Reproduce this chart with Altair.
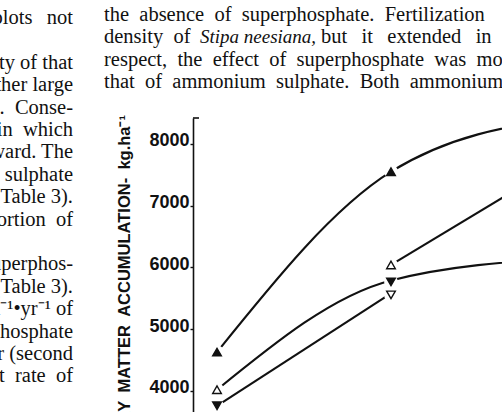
import altair as alt
import pandas as pd

# ---------------- data ----------------
occasions = [1, 2]                      # sampling occasions (x)
filled_up = [4630, 7550]
open_up = [4020, 6040]
filled_down = [3760, 5765]
open_down_x = [2]
open_down = [5555]

# fitted curves (values at the occasions they span)
curve_top_x = [1, 2, 3]
curve_top = [4630, 7550, 8430]
curve_mid_x = [1, 2, 3]
curve_mid = [4020, 5790, 6150]
curve_low_x = [1, 2]
curve_low = [3760, 5580]
curve_branch_x = [2, 3]
curve_branch = [6040, 7740]

y_ticks = [4000, 5000, 6000, 7000, 8000]
y_title = "DRY MATTER ACCUMULATION- kg.ha\u207b\u00b9"

EN = "\u2002"
WIDE = "\u2002\u2009"
left_column = ["plots" + WIDE + "not", "", "the density of that", "rather large",
               "site." + EN + "Conse-", "condition" + EN + "in" + EN + "which", "toward. The",
               "ammonium sulphate", "(Table 3).", "proportion" + EN + "of", "",
               "superphos-", "(Table 3).", "kg.ha\u207b\u00b9\u2022yr\u207b\u00b9 of",
               "superphosphate", "year (second", "highest" + EN + "rate" + EN + "of"]
right_lines = ["the absence of superphosphate. Fertilization",
               "",
               "respect, the effect of superphosphate was more",
               "that of ammonium sulphate. Both ammonium"]
right_line2 = ["density of", "Stipa neesiana,", "but it extended in"]

# ---------------- tables ----------------
rows = []
for xs, ys, name in [(curve_top_x, curve_top, "top"), (curve_mid_x, curve_mid, "mid"),
                     (curve_low_x, curve_low, "low"), (curve_branch_x, curve_branch, "branch")]:
    for xv, yv in zip(xs, ys):
        rows.append({"curve": name, "x": xv, "value": yv})
curves = pd.DataFrame(rows)

mrows = []
for xv, yv in zip(occasions, filled_up):
    mrows.append({"kind": "filled up", "x": xv, "value": yv})
for xv, yv in zip(occasions, open_up):
    mrows.append({"kind": "open up", "x": xv, "value": yv})
for xv, yv in zip(occasions, filled_down):
    mrows.append({"kind": "filled down", "x": xv, "value": yv})
for xv, yv in zip(open_down_x, open_down):
    mrows.append({"kind": "open down", "x": xv, "value": yv})
markers = pd.DataFrame(mrows)
one = pd.DataFrame({"k": [0]})

INK = "#111111"
PLOT_W, PLOT_H = 309, 294
LEFT, TOP = 193, 118
xscale = alt.Scale(domain=[0.862, 2.638], nice=False, zero=False)
yscale = alt.Scale(domain=[3659, 8420], nice=False, zero=False)

base_x = alt.X("x:Q", scale=xscale, axis=None)

lines = alt.Chart(curves).mark_line(
    interpolate="monotone", clip=True, strokeWidth=2.1, color=INK
).encode(
    x=base_x,
    y=alt.Y("value:Q", scale=yscale, axis=alt.Axis(
        values=y_ticks, format="d", title=None, grid=False,
        labelFont="Liberation Sans", labelFontSize=18, labelFontWeight="bold",
        labelColor=INK, labelPadding=1, labelOffset=-3,
        domainColor=INK, domainWidth=1.6, tickColor=INK, tickSize=3, tickWidth=1.4)),
    detail="curve:N",
)

halo = alt.Chart(markers).mark_point(
    shape="circle", filled=True, color="white", size=190, opacity=1, clip=True
).encode(x=base_x, y=alt.Y("value:Q", scale=yscale))

kinds = ["filled up", "open up", "filled down", "open down"]
pts = alt.Chart(markers).mark_point(
    filled=True, stroke=INK, strokeWidth=1.4, opacity=1, size=75, clip=True
).encode(
    x=base_x,
    y=alt.Y("value:Q", scale=yscale),
    shape=alt.Shape("kind:N", scale=alt.Scale(domain=kinds, range=[
        "triangle-up", "triangle-up", "triangle-down", "triangle-down"]), legend=None),
    fill=alt.Fill("kind:N", scale=alt.Scale(domain=kinds, range=[
        INK, "white", INK, "white"]), legend=None),
)

# top bracket of the axis
bracket = alt.Chart(one).mark_rule(color=INK, strokeWidth=1.6).encode(
    x=alt.value(0), x2=alt.value(6), y=alt.value(0))

title = alt.Chart(one).mark_text(
    text=y_title.replace(" ", EN), angle=270, align="right", baseline="middle",
    font="Liberation Sans", fontWeight="bold", fontSize=16.5, color=INK
).encode(x=alt.value(125 - LEFT), y=alt.value(115 - TOP))

SERIF = "Liberation Serif"
FS = 20.5
LH = 22.4
Y0 = 21       # baseline of first line, right column
Y0_LEFT = 24  # baseline of first line, left column

text_layers = []
for i, s in enumerate(left_column):
    if s:
        text_layers.append(alt.Chart(one).mark_text(
            text=s, align="right", baseline="alphabetic", font=SERIF, fontSize=FS, color=INK
        ).encode(x=alt.value(73 - LEFT), y=alt.value(Y0_LEFT + i * LH - TOP)))

# justified lines: word spaces widened
for i, s in enumerate(right_lines):
    if s:
        text_layers.append(alt.Chart(one).mark_text(
            text=s.replace(" ", EN), align="left", baseline="alphabetic", font=SERIF,
            fontSize=FS, color=INK
        ).encode(x=alt.value(104 - LEFT), y=alt.value(Y0 + i * LH - TOP)))

for txt, px, sty, fs, sp in zip(right_line2, [104, 200, 321], ["normal", "italic", "normal"],
                                [FS, 19, FS], [EN, " ", WIDE]):
    text_layers.append(alt.Chart(one).mark_text(
        text=txt.replace(" ", sp), align="left",
        baseline="alphabetic", font=SERIF, fontSize=fs, fontStyle=sty, color=INK
    ).encode(x=alt.value(px - LEFT), y=alt.value(Y0 + LH - TOP)))

chart = alt.layer(lines, halo, pts, bracket, title, *text_layers).properties(
    width=PLOT_W, height=PLOT_H,
    autosize=alt.AutoSizeParams(type="none"),
    padding={"left": LEFT, "top": TOP, "right": 0, "bottom": 0},
    background="white",
).configure_view(stroke=None)

chart.save("out.html", embed_options={"renderer": "svg", "actions": False})
